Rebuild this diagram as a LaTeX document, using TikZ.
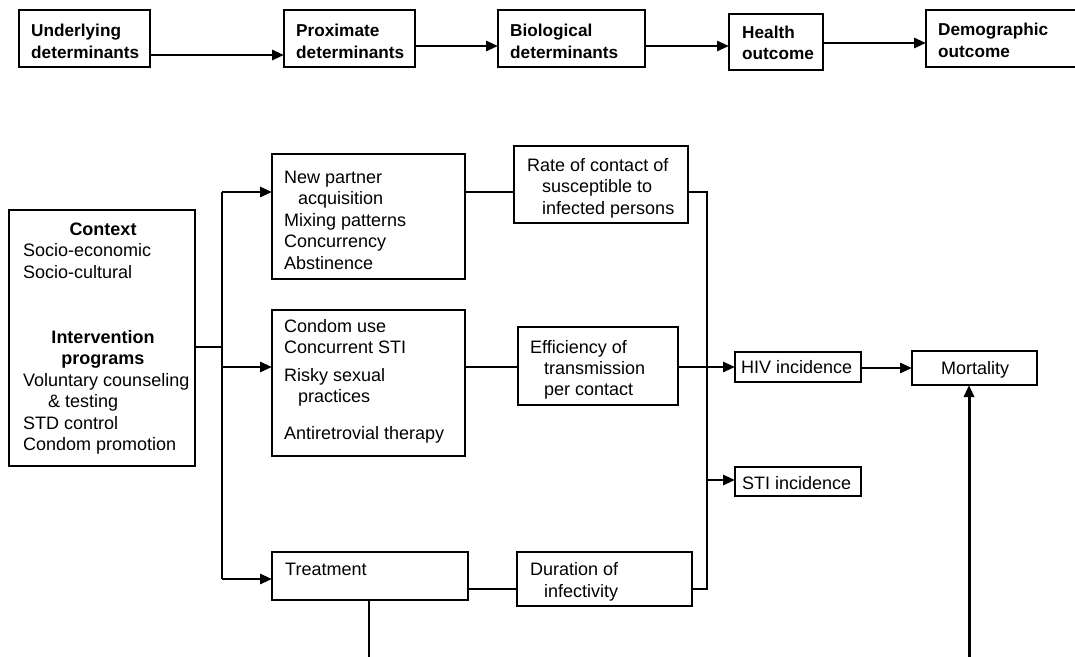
\documentclass[tikz,border=0pt]{standalone}
\usepackage{fontspec}
\setmainfont{Liberation Sans}
\usetikzlibrary{arrows.meta}
\begin{document}
\begin{tikzpicture}[x=1pt,y=-1pt,
  box/.style={draw,line width=1.8pt,anchor=north west,inner sep=0pt,outer sep=0pt},
  txt/.style={anchor=base west,inner sep=0pt,font=\fontsize{18pt}{21.5pt}\selectfont},
  btxt/.style={anchor=base west,inner sep=0pt,font=\fontsize{17.2pt}{21pt}\selectfont\bfseries},
  thin/.style={line width=1.5pt},
  arr/.style={line width=2.8pt,-{Triangle[length=12pt,width=10pt]}},
]
\useasboundingbox (0,0) rectangle (1075,656);
% ---- top row
\node[box,minimum width=131pt,minimum height=57pt] (under) at (19,10) {};
\node[box,minimum width=131pt,minimum height=57pt] (prox) at (284,10) {};
\node[box,minimum width=147pt,minimum height=57pt] (bio) at (498,10) {};
\node[box,minimum width=94pt,minimum height=56pt] (health) at (729,14) {};
\node[box,minimum width=152pt,minimum height=57pt] (demo) at (926,10) {};
\node[btxt] (u1) at (31,36) {Underlying};
\node[btxt] (u2) at (31,58) {determinants};
\node[btxt] (p1) at (296,36) {Proximate};
\node[btxt] (p2) at (296,58) {determinants};
\node[btxt] (b1) at (510,36) {Biological};
\node[btxt] (b2) at (510,58) {determinants};
\node[btxt] (h1) at (742,38) {Health};
\node[btxt] (h2) at (742,59) {outcome};
\node[btxt] (d1) at (938,35) {Demographic};
\node[btxt] (d2) at (938,57) {outcome};
\draw[arr] ([yshift=-16.5pt]under.east) -- ([yshift=-16.5pt]under.east -| prox.west);
\draw[arr] ([yshift=-7.5pt]prox.east) -- ([yshift=-7.5pt]prox.east -| bio.west);
\draw[arr] ([yshift=-7.5pt]bio.east) -- ([yshift=-7.5pt]bio.east -| health.west);
\draw[arr] ([yshift=-1pt]health.east) -- ([yshift=-1pt]health.east -| demo.west);
% ---- boxes
\node[box,minimum width=186pt,minimum height=256pt] (ctx) at (9,210) {};
\node[box,minimum width=193pt,minimum height=125pt] (bx1) at (272,154) {};
\node[box,minimum width=193pt,minimum height=146pt] (bx2) at (272,310) {};
\node[box,minimum width=196pt,minimum height=48pt] (treat) at (272,552) {};
\node[box,minimum width=174pt,minimum height=77pt] (rate) at (514,146) {};
\node[box,minimum width=160pt,minimum height=78pt] (eff) at (518,327) {};
\node[box,minimum width=175pt,minimum height=54pt] (dur) at (517,552) {};
\node[box,minimum width=126pt,minimum height=30pt] (hiv) at (735,352) {};
\node[box,minimum width=126pt,minimum height=29pt] (sti) at (735,467) {};
\node[box,minimum width=125pt,minimum height=34pt] (mort) at (912,351) {};
% ---- texts
\node[txt,anchor=base,font=\fontsize{18pt}{21.5pt}\selectfont\bfseries] (c0) at (103,235) {Context};
\node[txt] (c1) at (23,256.5) {Socio-economic};
\node[txt] (c2) at (23,278) {Socio-cultural};
\node[txt,anchor=base,font=\fontsize{18pt}{21.5pt}\selectfont\bfseries] (c3) at (103,343) {Intervention};
\node[txt,anchor=base,font=\fontsize{18pt}{21.5pt}\selectfont\bfseries] (c4) at (103,364.5) {programs};
\node[txt] (c5) at (23,386) {Voluntary counseling};
\node[txt] (c6) at (48,407.5) {\& testing};
\node[txt] (c7) at (23,429) {STD control};
\node[txt] (c8) at (23,450.5) {Condom promotion};
\node[txt] (n1) at (284,183) {New partner};
\node[txt] (n2) at (298,204.5) {acquisition};
\node[txt] (n3) at (284,226) {Mixing patterns};
\node[txt] (n4) at (284,247.5) {Concurrency};
\node[txt] (n5) at (284,269) {Abstinence};
\node[txt] (m1) at (284,332) {Condom use};
\node[txt] (m2) at (284,353.5) {Concurrent STI};
\node[txt] (m3) at (284,381) {Risky sexual};
\node[txt] (m4) at (298,402.5) {practices};
\node[txt] (m5) at (284,439) {Antiretrovial therapy};
\node[txt] (t1) at (285,575) {Treatment};
\node[txt] (r1) at (527,171) {Rate of contact of};
\node[txt] (r2) at (542,192.5) {susceptible to};
\node[txt] (r3) at (542,214) {infected persons};
\node[txt] (e1) at (530,353) {Efficiency of};
\node[txt] (e2) at (544,374) {transmission};
\node[txt] (e3) at (544,395) {per contact};
\node[txt] (du1) at (530,575) {Duration of};
\node[txt] (du2) at (544,597) {infectivity};
\node[txt] (hv) at (741,373) {HIV incidence};
\node[txt] (st) at (742,489) {STI incidence};
\node[txt,anchor=base] (mo) at (975,374) {Mortality};
% ---- connectors
\coordinate (jc) at (222,347);
\coordinate (jtop) at (222,192);
\coordinate (jmid) at (222,367);
\coordinate (jbot) at (222,579);
\coordinate (rtop) at (707,192);
\coordinate (rhiv) at (707,367);
\coordinate (rsti) at (707,480);
\coordinate (rbot) at (707,589);
\coordinate (tbot) at (369,660);
\coordinate (mbot) at (969,660);
\draw[thin] ([yshift=-9pt]ctx.east) -- (jc);
\draw[thin] (jtop) -- (jbot);
\draw[arr] (jtop) -- (jtop -| bx1.west);
\draw[arr] (jmid) -- (jmid -| bx2.west);
\draw[arr] (jbot) -- (jbot -| treat.west);
\draw[thin] (jtop -| bx1.east) -- (jtop -| rate.west);
\draw[thin] (jtop -| rate.east) -- (rtop) -- (rbot) -- (rbot -| dur.east);
\draw[thin] (jmid -| bx2.east) -- (jmid -| eff.west);
\draw[thin] (jmid -| eff.east) -- (rhiv);
\draw[arr] (rhiv) -- (rhiv -| hiv.west);
\draw[arr] (rsti) -- (rsti -| sti.west);
\draw[thin] ([yshift=-13pt]treat.east) -- ([yshift=-13pt]treat.east -| dur.west);
\draw[arr] ([yshift=-1pt]hiv.east) -- ([yshift=-1pt]hiv.east -| mort.west);
\draw[thin] (treat.south -| tbot) -- (tbot);
\draw[arr,line width=3pt] (mbot) -- (mbot |- mort.south);
\end{tikzpicture}
\end{document}
